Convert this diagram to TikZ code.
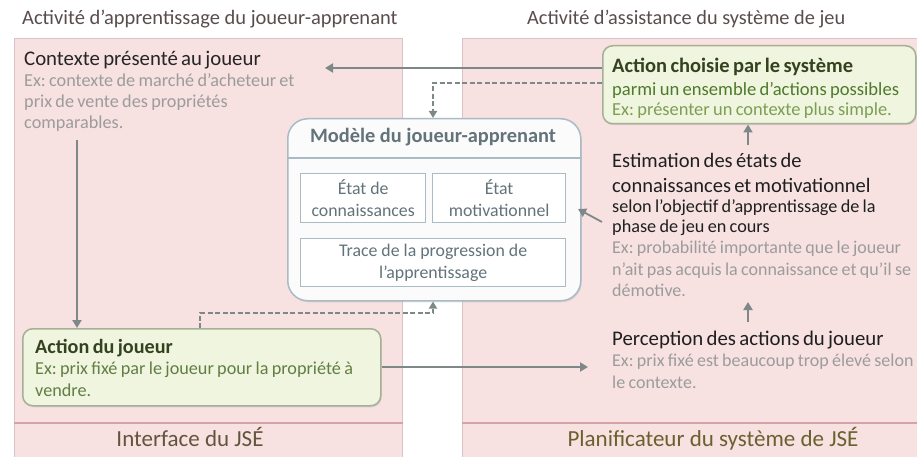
\documentclass[tikz,border=0pt]{standalone}
\usepackage{fontspec}
\setmainfont{Carlito}
\usepackage{xcolor}
\usetikzlibrary{
    arrows.meta,
    positioning,
    shadows
}
\definecolor{rosefond}{HTML}{F7E1E1}
\definecolor{rosebord}{HTML}{D9C3C6}
\definecolor{bandrose}{HTML}{D5A2AA}
\definecolor{titregris}{HTML}{5A4C4C}
\definecolor{vertfond}{HTML}{EFF5DE}
\definecolor{vertbord}{HTML}{A5B096}
\definecolor{verttitre}{HTML}{34421F}
\definecolor{vertmoyen}{HTML}{4F7A2C}
\definecolor{vertclair}{HTML}{7C9E55}
\definecolor{exgris}{HTML}{9C9C9C}
\definecolor{modgris}{HTML}{62737A}
\definecolor{bordbleu}{HTML}{A9BCC5}
\definecolor{flechegris}{HTML}{7E8888}
\newcommand{\taille}[2]{\fontsize{#1}{#2}\selectfont}
\newcommand{\ligne}{\rule{0pt}{20pt}}
\frenchspacing

\begin{document}
\begin{tikzpicture}[x=1pt, y=-1pt,
    panneau/.style={draw=rosebord, line width=1pt, fill=rosefond, anchor=north west, inner sep=0pt},
    boitevert/.style={draw=vertbord, line width=1.5pt, fill=vertfond, rounded corners=10pt, anchor=north west, inner sep=0pt,
        drop shadow={opacity=0.2, shadow xshift=1pt, shadow yshift=-1.5pt}},
    texte/.style={anchor=north west, inner sep=0pt, align=left, text width=330},
    petitbox/.style={draw=bordbleu, line width=1.3pt, fill=white, inner sep=0pt, align=center, text=modgris,
        font=\taille{17.8}{22}},
    fleche/.style={draw=flechegris, line width=2.2pt, -{Triangle[length=8pt, width=9pt]}},
    pointille/.style={draw=flechegris, line width=2pt, dash pattern=on 5pt off 2.5pt, -{Triangle[length=7pt, width=8pt]}}
]
\useasboundingbox (0,0) rectangle (917,457);

% panneaux
\node[panneau, minimum width=388, minimum height=430] (gauche) at (14,38) {};
\node[panneau, minimum width=465, minimum height=430] (droite) at (462,38) {};
\coordinate (bande) at (0,423);
\draw[bandrose, line width=2pt] (gauche.west |- bande) -- (gauche.east |- bande);
\draw[bandrose, line width=2pt] (droite.west |- bande) -- (droite.east |- bande);

\node[anchor=base west, inner sep=0pt, text=titregris, font=\taille{20.5}{24}] (titreg) at (22,25) {Activité d’apprentissage du joueur-apprenant};
\node[anchor=base west, inner sep=0pt, text=titregris, font=\taille{20.3}{24}] (titred) at (527,25) {Activité d’assistance du système de jeu};
\node[anchor=base, inner sep=0pt, text=titregris!80!olive, font=\taille{23}{26}] (interface) at (190,446) {Interface du JSÉ};
\node[anchor=base, inner sep=0pt, text=titregris!60!olive, font=\taille{23}{26}] (planif) at (713,446) {Planificateur du système de JSÉ};

% cote joueur
\node[texte] (contexte) at (24,45) {{\taille{20.8}{24}\color{black!85}\ligne Contexte présenté au joueur\par}
    {\taille{18.2}{21}\color{exgris} Ex: contexte de marché d’acheteur et\\prix de vente des propriétés\\comparables.\par}};
\node[boitevert, minimum width=358, minimum height=77] (actionj) at (22,328) {};
\node[texte] (actionjtxt) at (35,333) {{\taille{20.2}{22}\bfseries\color{verttitre}\ligne Action du joueur\par}
    {\taille{18.2}{21.5}\color{vertclair!80!black} Ex: prix fixé par le joueur pour la propriété à\\vendre.\par}};

% modele
\node[draw=bordbleu, line width=1.5pt, fill=white!97!gray, rounded corners=20pt, anchor=north west, inner sep=0pt,
    minimum width=293, minimum height=182,
    drop shadow={opacity=0.2, shadow xshift=1pt, shadow yshift=-1.5pt}] (modele) at (287,118) {};
\node[anchor=base, inner sep=0pt, text=modgris, font=\taille{20.4}{24}\bfseries] (modtitre) at (433,143) {Modèle du joueur-apprenant};
\coordinate (sep) at (0,158);
\draw[bordbleu, line width=1.5pt] (modele.west |- sep) -- (modele.east |- sep);
\node[petitbox, anchor=north west, minimum width=125, minimum height=49] (connais) at (300,173) {État de\\connaissances};
\node[petitbox, anchor=north west, minimum width=133, minimum height=49] (motiv) at (432,173) {État\\motivationnel};
\node[petitbox, anchor=north west, minimum width=265, minimum height=48] (trace) at (300,238) {Trace de la progression de\\l’apprentissage};

% cote systeme
\node[boitevert, minimum width=313, minimum height=78] (choisie) at (602,45) {};
\node[texte] (choisietxt) at (612,52) {{\taille{20.5}{24}\bfseries\color{verttitre}\ligne Action choisie par le système\par}
    {\taille{18.6}{23}\color{vertmoyen} parmi un ensemble d’actions possibles\par}
    {\taille{18.4}{20}\color{vertclair} Ex: présenter un contexte plus simple.\par}};
\node[texte] (estimation) at (612,147) {{\taille{20.5}{25}\color{black!88}\ligne Estimation des états de\\connaissances et motivationnel\par}
    {\taille{18.2}{20}\color{black!88} selon l’objectif d’apprentissage de la\\phase de jeu en cours\par}
    {\taille{18}{21.5}\color{exgris} Ex: probabilité importante que le joueur\\n’ait pas acquis la connaissance et qu’il se\\démotive.\par}};
\node[texte] (perception) at (612,325) {{\taille{20.8}{24}\color{black!88}\ligne Perception des actions du joueur\par}
    {\taille{18}{21.5}\color{exgris} Ex: prix fixé est beaucoup trop élevé selon\\le contexte.\par}};

% liens
\coordinate (c1) at (325,68);
\coordinate (d1) at (433,83);
\coordinate (c2) at (77,140);
\coordinate (d2) at (200,313);
\coordinate (c3) at (588,367);
\coordinate (e1) at (748,145);
\coordinate (e2) at (602,222);
\coordinate (m1) at (578,209);
\coordinate (p1) at (748,322);
\coordinate (p2) at (748,302);
\draw[fleche] (choisie.west |- c1) -- (c1);
\draw[pointille] (choisie.west |- d1) -| (modele.north -| d1);
\draw[fleche] (c2) -- (actionj.north -| c2);
\draw[pointille] (actionj.north -| d2) -- (d2) -| (modele.south -| d1);
\draw[fleche] (actionj.east |- c3) -- (c3);
\draw[fleche] (e1) -- (choisie.south -| e1);
\draw[fleche, line width=1.8pt] (e2) -- (m1);
\draw[fleche] (p1) -- (p2);
\end{tikzpicture}
\end{document}
